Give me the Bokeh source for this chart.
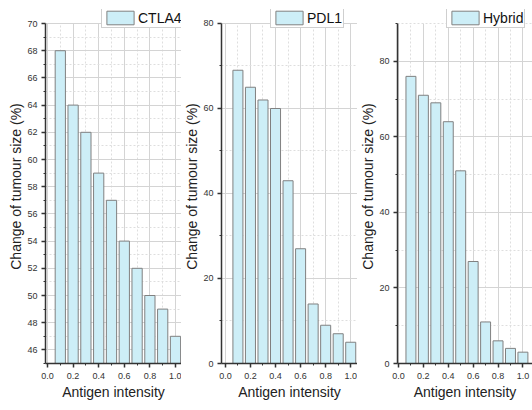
from bokeh.plotting import figure
from bokeh.layouts import row
from bokeh.models import FixedTicker, PrintfTickFormatter, Range1d, Legend, LegendItem
from bokeh.embed import file_html
from bokeh.resources import INLINE

# ---- data ----
intensity = [0.1, 0.2, 0.3, 0.4, 0.5, 0.6, 0.7, 0.8, 0.9, 1.0]
ctla4 = [68, 64, 62, 59, 57, 54, 52, 50, 49, 47]
pdl1 = [69, 65, 62, 60, 43, 27, 14, 9, 7, 5]
hybrid = [76, 71, 69, 64, 51, 27, 11, 6, 4, 3]

x_major = [0.0, 0.2, 0.4, 0.6, 0.8, 1.0]
x_minor = [0.1, 0.3, 0.5, 0.7, 0.9]
ctla4_yticks = [46, 48, 50, 52, 54, 56, 58, 60, 62, 64, 66, 68, 70]
ctla4_yminor = [45, 47, 49, 51, 53, 55, 57, 59, 61, 63, 65, 67, 69]
pdl1_yticks = [0, 20, 40, 60, 80]
pdl1_yminor = [10, 30, 50, 70]
hybrid_yticks = [0, 20, 40, 60, 80]
hybrid_yminor = [10, 30, 50, 70, 90]

series_names = ["CTLA4", "PDL1", "Hybrid"]
y_axis_title = "Change of tumour size (%)"
x_axis_title = "Antigen intensity"

FONT = "Liberation Sans"
BAR_FILL = "#cdeef7"
BAR_LINE = "#808080"
AXIS_COL = "#333333"


def make_panel(name, values, yticks, yminor, y_bounds, y_end, x_start, x_end,
               width, left, legend_xy):
    p = figure(width=width, height=410, output_backend="svg", toolbar_location=None,
               x_range=Range1d(x_start, x_end), y_range=Range1d(y_bounds[0], y_end),
               min_border_left=left, min_border_right=0, min_border_top=9,
               min_border_bottom=47)
    p.outline_line_color = None
    p.background_fill_color = "white"
    p.border_fill_color = "white"

    r = p.vbar(x=intensity, top=values, bottom=0, width=0.08,
               fill_color=BAR_FILL, line_color=BAR_LINE, line_width=1)

    xt = FixedTicker(ticks=x_major, minor_ticks=x_minor)
    yt = FixedTicker(ticks=yticks, minor_ticks=yminor)
    p.xaxis.ticker = xt
    p.xgrid.ticker = xt
    p.yaxis.ticker = yt
    p.ygrid.ticker = yt
    p.xaxis.formatter = PrintfTickFormatter(format="%.1f")
    p.yaxis.bounds = y_bounds
    p.ygrid.bounds = y_bounds
    p.xgrid.cross_bounds = y_bounds

    for g in (p.xgrid, p.ygrid):
        g.grid_line_color = "#d4d4d4"
        g.grid_line_width = 1
        g.minor_grid_line_color = "#dedede"
        g.minor_grid_line_dash = "2 2"
        g.minor_grid_line_width = 1

    for ax in (p.xaxis[0], p.yaxis[0]):
        ax.axis_line_color = AXIS_COL
        ax.axis_line_width = 1.5
        ax.major_tick_line_color = AXIS_COL
        ax.major_tick_line_width = 1.5
        ax.minor_tick_line_color = AXIS_COL
        ax.minor_tick_line_width = 1
        ax.major_tick_in = 0
        ax.major_tick_out = 4
        ax.minor_tick_in = 0
        ax.minor_tick_out = 2
        ax.major_label_text_font = FONT
        ax.major_label_text_font_size = "9px"
        ax.major_label_text_color = "#333333"
        ax.axis_label_text_font = FONT
        ax.axis_label_text_font_size = "14px"
        ax.axis_label_text_font_style = "normal"
        ax.axis_label_text_color = "#222222"
    p.xaxis.axis_label = x_axis_title
    p.yaxis.axis_label = y_axis_title
    p.xaxis.major_label_standoff = 5
    p.xaxis.axis_label_standoff = 2
    p.yaxis.major_label_standoff = 4
    p.yaxis.axis_label_standoff = 0

    legend = Legend(items=[LegendItem(label=name, renderers=[r])],
                    location=legend_xy, padding=1, margin=0, spacing=0,
                    glyph_width=34, glyph_height=17, label_standoff=1,
                    label_text_font=FONT, label_text_font_size="14px",
                    label_text_color="#111111", label_height=17,
                    border_line_color="#a0a0a0", border_line_width=1,
                    background_fill_color="white", background_fill_alpha=1)
    p.add_layout(legend, "center")
    return p


p1 = make_panel(series_names[0], ctla4, ctla4_yticks, ctla4_yminor, (45, 70), 71.03,
                -0.0156, 1.047, 181, 45, (56, 335))
p2 = make_panel(series_names[1], pdl1, pdl1_yticks, pdl1_yminor, (0, 80), 83.29,
                -0.031, 1.054, 176, 36, (49, 335))
p3 = make_panel(series_names[2], hybrid, hybrid_yticks, hybrid_yminor, (0, 90), 93.7,
                -0.008, 1.077, 175, 36, (49, 335))

layout = row(p1, p2, p3, spacing=0)
open("out.html", "w").write(file_html(layout, INLINE))
